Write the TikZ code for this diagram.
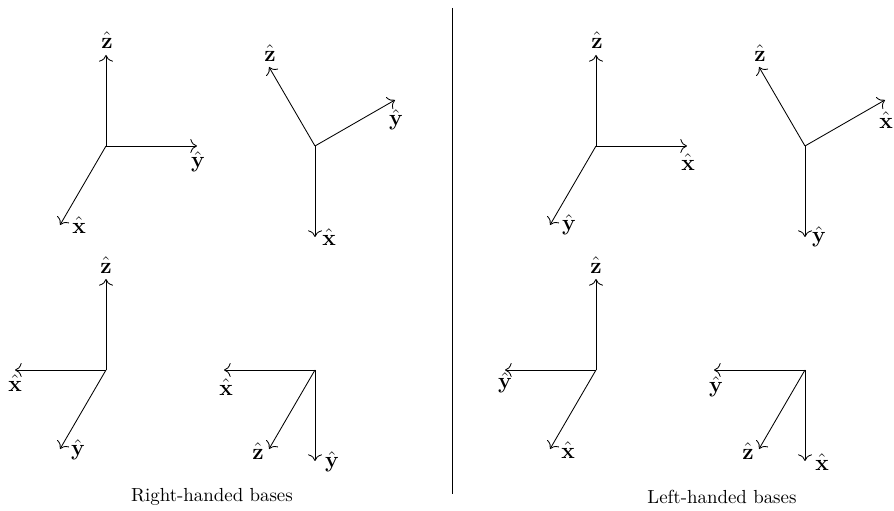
\documentclass[tikz,border=0pt]{standalone}
\usepackage{amsmath}
\usetikzlibrary{arrows.meta}
\begin{document}
\begin{tikzpicture}[x=0.529pt,y=-0.529pt,
  axis/.style={-{To[scale=1.35]},line width=0.45pt},
  lbl/.style={inner sep=0pt,font=\large},
  captext/.style={inner sep=0pt,font=\normalsize}]
\useasboundingbox (0,0) rectangle (894,511);
% ---------------- Right-handed ----------------
% top-left
\coordinate (a0) at (106,146);
\coordinate (az) at (106,55);
\coordinate (ay) at (197,146);
\coordinate (ax) at (60,225);
\draw[axis] (a0) -- (az);
\draw[axis] (a0) -- (ay);
\draw[axis] (a0) -- (ax);
\node[lbl] (azl) at (107,40) {$\hat{\mathbf{z}}$};
\node[lbl] (ayl) at (198,162) {$\hat{\mathbf{y}}$};
\node[lbl] (axl) at (79,225) {$\hat{\mathbf{x}}$};
% top-right
\coordinate (b0) at (315,146);
\coordinate (bz) at (269,67);
\coordinate (by) at (395,100);
\coordinate (bx) at (315,237);
\draw[axis] (b0) -- (bz);
\draw[axis] (b0) -- (by);
\draw[axis] (b0) -- (bx);
\node[lbl] (bzl) at (270,53) {$\hat{\mathbf{z}}$};
\node[lbl] (byl) at (396,120) {$\hat{\mathbf{y}}$};
\node[lbl] (bxl) at (329,237) {$\hat{\mathbf{x}}$};
% bottom-left
\coordinate (c0) at (106,370);
\coordinate (cz) at (106,279);
\coordinate (cx) at (15,370);
\coordinate (cy) at (60,449);
\draw[axis] (c0) -- (cz);
\draw[axis] (c0) -- (cx);
\draw[axis] (c0) -- (cy);
\node[lbl] (czl) at (106,265) {$\hat{\mathbf{z}}$};
\node[lbl] (cxl) at (15,383) {$\hat{\mathbf{x}}$};
\node[lbl] (cyl) at (78,450) {$\hat{\mathbf{y}}$};
% bottom-right
\coordinate (d0) at (315,370);
\coordinate (dx) at (224,370);
\coordinate (dz) at (269,449);
\coordinate (dy) at (315,461);
\draw[axis] (d0) -- (dx);
\draw[axis] (d0) -- (dz);
\draw[axis] (d0) -- (dy);
\node[lbl] (dxl) at (226,387) {$\hat{\mathbf{x}}$};
\node[lbl] (dzl) at (258,451) {$\hat{\mathbf{z}}$};
\node[lbl] (dyl) at (332,462) {$\hat{\mathbf{y}}$};
% ---------------- Left-handed ----------------
\begin{scope}[shift={(490,0)}]
\coordinate (e0) at (106,146);
\coordinate (ez) at (106,55);
\coordinate (ex) at (197,146);
\coordinate (ey) at (60,225);
\draw[axis] (e0) -- (ez);
\draw[axis] (e0) -- (ex);
\draw[axis] (e0) -- (ey);
\node[lbl] (ezl) at (107,40) {$\hat{\mathbf{z}}$};
\node[lbl] (exl) at (198,162) {$\hat{\mathbf{x}}$};
\node[lbl] (eyl) at (79,225) {$\hat{\mathbf{y}}$};
\coordinate (f0) at (315,146);
\coordinate (fz) at (269,67);
\coordinate (fx) at (395,100);
\coordinate (fy) at (315,237);
\draw[axis] (f0) -- (fz);
\draw[axis] (f0) -- (fx);
\draw[axis] (f0) -- (fy);
\node[lbl] (fzl) at (270,53) {$\hat{\mathbf{z}}$};
\node[lbl] (fxl) at (396,120) {$\hat{\mathbf{x}}$};
\node[lbl] (fyl) at (329,237) {$\hat{\mathbf{y}}$};
\coordinate (g0) at (106,370);
\coordinate (gz) at (106,279);
\coordinate (gy) at (15,370);
\coordinate (gx) at (60,449);
\draw[axis] (g0) -- (gz);
\draw[axis] (g0) -- (gy);
\draw[axis] (g0) -- (gx);
\node[lbl] (gzl) at (106,265) {$\hat{\mathbf{z}}$};
\node[lbl] (gyl) at (15,383) {$\hat{\mathbf{y}}$};
\node[lbl] (gxl) at (78,450) {$\hat{\mathbf{x}}$};
\coordinate (h0) at (315,370);
\coordinate (hy) at (224,370);
\coordinate (hz) at (269,449);
\coordinate (hx) at (315,461);
\draw[axis] (h0) -- (hy);
\draw[axis] (h0) -- (hz);
\draw[axis] (h0) -- (hx);
\node[lbl] (hyl) at (226,387) {$\hat{\mathbf{y}}$};
\node[lbl] (hzl) at (258,451) {$\hat{\mathbf{z}}$};
\node[lbl] (hxl) at (332,462) {$\hat{\mathbf{x}}$};
\end{scope}
% divider and captions
\coordinate (dtop) at (452,8);
\coordinate (dbot) at (452,494);
\draw[line width=0.4pt] (dtop) -- (dbot);
\node[captext] (capr) at (212,497) {Right-handed bases};
\node[captext] (capl) at (722,497) {Left-handed bases};
\end{tikzpicture}
\end{document}
